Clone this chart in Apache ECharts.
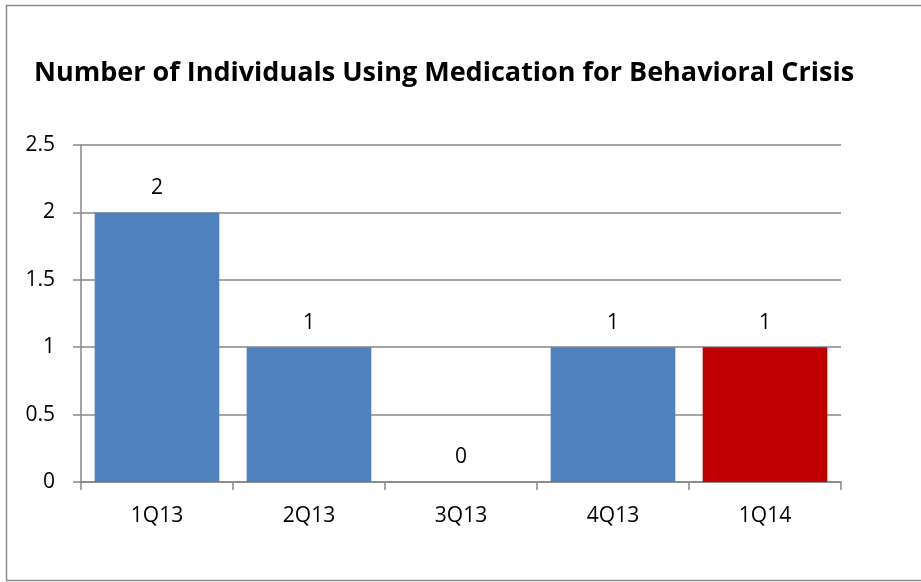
<!DOCTYPE html>
<html>
<head>
<meta charset="utf-8">
<script src="https://cdn.jsdelivr.net/npm/echarts@6/dist/echarts.min.js"></script>
<style>
  html, body { margin: 0; padding: 0; background: #fff; }
  #chart { width: 921px; height: 582px; }
</style>
</head>
<body>
<div id="chart"></div>
<script>
// Quarterly counts of individuals using medication for behavioral crisis
const quarters = ['1Q13', '2Q13', '3Q13', '4Q13', '1Q14'];
const individuals = [2, 1, 0, 1, 1];
const barColors = ['#4F81BD', '#4F81BD', '#4F81BD', '#4F81BD', '#C00000'];
const yTicks = { min: 0, max: 2.5, interval: 0.5 };

const FONT = '"Open Sans", "Liberation Sans", sans-serif';

const chart = echarts.init(document.getElementById('chart'), null, { renderer: 'canvas' });

chart.setOption({
  animation: false,
  backgroundColor: '#ffffff',
  title: {
    text: 'Number of Individuals Using Medication for Behavioral Crisis',
    left: 29,
    top: 55,
    textStyle: {
      fontFamily: FONT,
      fontWeight: 'bold',
      fontSize: 27,
      color: '#000000'
    }
  },
  graphic: [{
    type: 'rect',
    shape: { x: 6.5, y: 5.5, width: 940, height: 575 },
    style: { fill: 'none', stroke: '#8a8a8a', lineWidth: 1.5 },
    silent: true
  }],
  grid: { left: 81, right: 80, top: 145, bottom: 100, containLabel: false },
  xAxis: {
    type: 'category',
    data: quarters,
    axisLine: { lineStyle: { color: '#868686', width: 1.5 } },
    axisTick: { show: true, length: 8, lineStyle: { color: '#868686', width: 1.5 } },
    axisLabel: { fontFamily: FONT, fontSize: 21, color: '#000', margin: 24 }
  },
  yAxis: {
    type: 'value',
    min: yTicks.min,
    max: yTicks.max,
    interval: yTicks.interval,
    axisLine: { show: true, lineStyle: { color: '#868686', width: 1.5 } },
    axisTick: { show: true, length: 8, lineStyle: { color: '#868686', width: 1.5 } },
    splitLine: { lineStyle: { color: '#868686', width: 1.5 } },
    axisLabel: { fontFamily: FONT, fontSize: 21, color: '#000', margin: 26 }
  },
  series: [{
    type: 'bar',
    data: individuals.map((v, i) => ({ value: v, itemStyle: { color: barColors[i] } })),
    barCategoryGap: '18%',
    label: {
      show: true,
      position: 'top',
      distance: 14,
      fontFamily: FONT,
      fontSize: 21,
      color: '#000'
    }
  }]
});
</script>
</body>
</html>
